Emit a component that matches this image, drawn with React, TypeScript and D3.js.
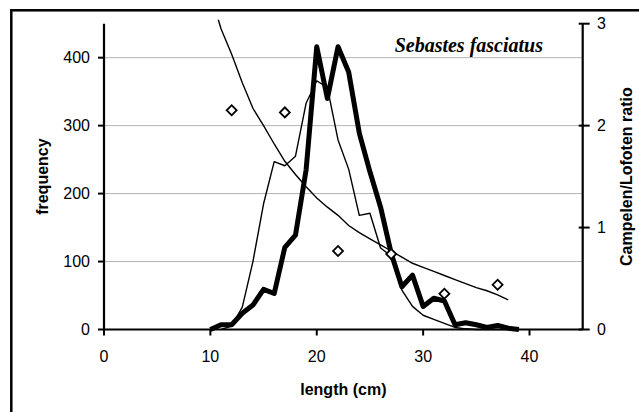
import React from "react";
import * as d3 from "d3";

// Campelen length frequency (thick line)
const campLengths = [10, 11, 12, 13, 14, 15, 16, 17, 18, 19, 20, 21, 22, 23, 24, 25, 26, 27, 28, 29, 30, 31, 32, 33, 34, 35, 36, 37, 38, 39];
const campFreq = [0, 7, 7, 24, 36, 59, 53, 121, 139, 235, 416, 340, 416, 379, 289, 232, 180, 112, 63, 80, 34, 46, 42, 7, 10, 7, 3, 6, 2, 0];

// Lofoten length frequency (thin line)
const lofLengths = [11, 12, 13, 14, 15, 16, 17, 18, 19, 20, 21, 22, 23, 24, 25, 26, 27, 28, 29, 30, 31, 32, 33, 34, 35, 36, 37, 38, 39];
const lofFreq = [0, 5, 33, 100, 185, 247, 241, 255, 333, 366, 356, 279, 236, 168, 171, 120, 108, 58, 34, 21, 15, 9, 3, 1, 0, 0, 0, 0, 0];

// Fitted Campelen/Lofoten ratio (smooth curve, right axis)
const fitLengths = [10, 11, 12, 13, 14, 15, 16, 17, 18, 19, 20, 21, 22, 23, 24, 25, 26, 27, 28, 29, 30, 31, 32, 33, 34, 35, 36, 37, 38];
const fitRatio = [3.3, 2.95, 2.7, 2.42, 2.17, 2.0, 1.82, 1.65, 1.52, 1.4, 1.29, 1.2, 1.12, 1.02, 0.95, 0.89, 0.83, 0.77, 0.71, 0.65, 0.61, 0.57, 0.53, 0.49, 0.45, 0.41, 0.38, 0.34, 0.29];

// Observed ratios (diamonds)
const obsLengths = [12, 17, 22, 27, 32, 37];
const obsRatio = [2.15, 2.13, 0.77, 0.74, 0.35, 0.44];

const xTicks = [0, 10, 20, 30, 40];
const yTicks = [0, 100, 200, 300, 400];
const y2Ticks = [0, 1, 2, 3];

const W = 639;
const H = 412;
const L = 104;
const R = 582.7;
const T = 23.7;
const B = 329.5;

export default function App() {
  const x = d3.scaleLinear().domain([0, 45]).range([L, R]);
  const y = d3.scaleLinear().domain([0, 450]).range([B, T]);
  const y2 = d3.scaleLinear().domain([0, 3]).range([B, T]);

  const freqLine = d3
    .line<[number, number]>()
    .x((d) => x(d[0]))
    .y((d) => y(d[1]));
  const ratioLine = d3
    .line<[number, number]>()
    .x((d) => x(d[0]))
    .y((d) => y2(d[1]));

  const campPath = freqLine(campLengths.map((l, i) => [l, campFreq[i]]));
  const lofPath = freqLine(lofLengths.map((l, i) => [l, lofFreq[i]]));
  const fitPath = ratioLine(fitLengths.map((l, i) => [l, fitRatio[i]]));
  const diamond = d3.symbol().type(d3.symbolSquare).size(50)();

  const font = "'Liberation Sans', Arial, sans-serif";

  return (
    <svg width={W} height={H} style={{ position: "absolute", left: 0, top: 0, background: "#fff" }}>
      <defs>
        <clipPath id="plotclip">
          <rect x={L} y={T - 4} width={R - L} height={B - T + 8} />
        </clipPath>
      </defs>
      <rect x={11.3} y={10.3} width={700} height={500} fill="none" stroke="#000" strokeWidth={2.5} />

      {/* gridlines */}
      {yTicks
        .filter((t) => t > 0)
        .map((t) => (
          <line key={"g" + t} x1={L} x2={R} y1={y(t)} y2={y(t)} stroke="#b4b4b4" strokeWidth={1} />
        ))}

      {/* left axis */}
      <line x1={L} x2={L} y1={T} y2={B} stroke="#000" strokeWidth={2.2} />
      {yTicks.map((t) => (
        <g key={"yl" + t}>
          <line x1={L - 6} x2={L} y1={y(t)} y2={y(t)} stroke="#000" strokeWidth={2} />
          <text x={90} y={y(t)} dy="0.36em" textAnchor="end" fontFamily={font} fontSize={16}>
            {t}
          </text>
        </g>
      ))}

      {/* right axis */}
      <line x1={R} x2={R} y1={T} y2={B} stroke="#000" strokeWidth={2.2} />
      {y2Ticks.map((t) => (
        <g key={"yr" + t}>
          <line x1={R - 4} x2={R + 7} y1={y2(t)} y2={y2(t)} stroke="#000" strokeWidth={2} />
          <text x={597} y={y2(t)} dy="0.36em" textAnchor="start" fontFamily={font} fontSize={16}>
            {t}
          </text>
        </g>
      ))}

      {/* x axis */}
      <line x1={L} x2={R} y1={B} y2={B} stroke="#000" strokeWidth={2.2} />
      {xTicks.map((t) => (
        <g key={"x" + t}>
          <line x1={x(t)} x2={x(t)} y1={B} y2={B + 6} stroke="#000" strokeWidth={2} />
          <text x={x(t)} y={361.5} textAnchor="middle" fontFamily={font} fontSize={16}>
            {t}
          </text>
        </g>
      ))}

      {/* series */}
      <g clipPath="url(#plotclip)">
        <path d={fitPath || ""} fill="none" stroke="#000" strokeWidth={1.4} />
      </g>
      <path d={lofPath || ""} fill="none" stroke="#000" strokeWidth={1.4} strokeLinejoin="round" />
      <path d={campPath || ""} fill="none" stroke="#000" strokeWidth={5} strokeLinejoin="round" />
      {obsLengths.map((l, i) => (
        <path
          key={"d" + l}
          d={diamond || ""}
          transform={`translate(${x(l)},${y2(obsRatio[i])}) rotate(45)`}
          fill="#fff"
          stroke="#000"
          strokeWidth={1.8}
        />
      ))}

      {/* titles */}
      <text
        x={543}
        y={51.5}
        textAnchor="end"
        fontFamily="'Liberation Serif', 'Times New Roman', serif"
        fontWeight="bold"
        fontStyle="italic"
        fontSize={20}
      >
        Sebastes fasciatus
      </text>
      <text x={(L + R) / 2} y={395} textAnchor="middle" fontFamily={font} fontWeight="bold" fontSize={16}>
        length (cm)
      </text>
      <text
        transform={`translate(48,${(T + B) / 2}) rotate(-90)`}
        textAnchor="middle"
        fontFamily={font}
        fontWeight="bold"
        fontSize={16}
      >
        frequency
      </text>
      <text
        transform={`translate(632,${(T + B) / 2}) rotate(-90)`}
        textAnchor="middle"
        fontFamily={font}
        fontWeight="bold"
        fontSize={16}
      >
        Campelen/Lofoten ratio
      </text>
    </svg>
  );
}
